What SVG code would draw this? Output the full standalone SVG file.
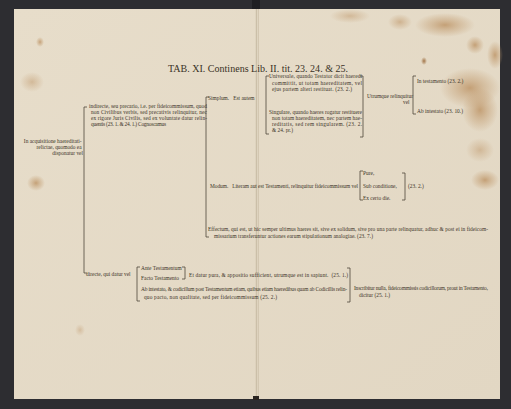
<svg xmlns="http://www.w3.org/2000/svg" width="511" height="409" viewBox="0 0 511 409">
<defs>
<radialGradient id="stain"><stop offset="0" stop-color="#b98d5c" stop-opacity="0.75"/><stop offset="0.6" stop-color="#c29c70" stop-opacity="0.35"/><stop offset="1" stop-color="#c29c70" stop-opacity="0"/></radialGradient>
<radialGradient id="spot"><stop offset="0" stop-color="#9a6a3a" stop-opacity="0.9"/><stop offset="1" stop-color="#9a6a3a" stop-opacity="0"/></radialGradient>
<linearGradient id="page" x1="0" y1="0" x2="1" y2="1"><stop offset="0" stop-color="#e7ddca"/><stop offset="1" stop-color="#e2d7c3"/></linearGradient>
<style>
.t{font-family:"Liberation Serif",serif;font-size:5.4px;fill:#3c3428}
.ti{font-family:"Liberation Serif",serif;font-size:10px;fill:#3a3226}
.b{fill:none;stroke:#4f473b;stroke-width:0.8}
</style>
</defs>
<rect width="511" height="409" fill="#2d2d31"/>
<rect x="14" y="9" width="486" height="390" fill="url(#page)"/>
<rect x="252" y="0" width="8" height="9" fill="#1f1f22"/>
<line x1="256.5" y1="9" x2="256.5" y2="399" stroke="#cbbfa8" stroke-width="1.5"/>
<line x1="258.5" y1="9" x2="258.5" y2="399" stroke="#d3c7b1" stroke-width="1"/>
<rect x="253" y="396" width="6" height="4" fill="#2a2420"/>
<g id="stains">
<ellipse cx="470" cy="88" rx="30" ry="20" fill="url(#stain)"/>
<ellipse cx="480" cy="110" rx="18" ry="22" fill="url(#stain)"/>
<ellipse cx="445" cy="25" rx="30" ry="12" fill="url(#stain)"/>
<ellipse cx="475" cy="45" rx="9" ry="9" fill="url(#stain)"/>
<ellipse cx="495" cy="55" rx="8" ry="14" fill="url(#stain)"/>
<ellipse cx="400" cy="22" rx="12" ry="8" fill="url(#stain)" opacity="0.7"/>
<ellipse cx="350" cy="16" rx="20" ry="7" fill="url(#stain)" opacity="0.6"/>
<ellipse cx="424" cy="61" rx="3" ry="4" fill="url(#spot)"/>
<ellipse cx="485" cy="180" rx="14" ry="10" fill="url(#stain)"/>
<ellipse cx="480" cy="150" rx="14" ry="12" fill="url(#stain)" opacity="0.6"/>
<ellipse cx="40" cy="42" rx="4" ry="5" fill="url(#stain)"/>
<ellipse cx="32" cy="82" rx="12" ry="10" fill="url(#stain)" opacity="0.6"/>
<ellipse cx="36" cy="183" rx="9" ry="8" fill="url(#stain)"/>
<ellipse cx="80" cy="330" rx="5" ry="6" fill="url(#stain)" opacity="0.5"/>
</g>
<g id="title"><text class="ti" x="168" y="72" textLength="180" lengthAdjust="spacingAndGlyphs">TAB. XI. Continens Lib. II. tit. 23. 24. &amp; 25.</text></g>
<g id="connectors">
<path class="b" d="M87 107 H84 V273 H87"/>
<path class="b" d="M209 97 H206 V237 H209"/>
<path class="b" d="M269 76 H266 V134 H269"/>
<path class="b" d="M360 76 H363 V137 H360"/>
<path class="b" d="M416 76 H413 V114 H416"/>
<path class="b" d="M363 171 H360 V200 H363"/>
<path class="b" d="M402 173 H405 V200 H402"/>
<path class="b" d="M140 267 H137 V301 H140"/>
<path class="b" d="M182 267 H185 V279 H182"/>
<path class="b" d="M347 268 H350 V302 H347"/>
</g>
<g id="n-root"><text class="t" text-anchor="end">
<tspan x="83" y="143">In acquisitione haereditati-</tspan>
<tspan x="83" y="149">relictae, quomodo ea</tspan>
<tspan x="83" y="155">disponatur vel</tspan></text></g>
<g id="n-indirecte"><text class="t">
<tspan x="89" y="108" textLength="118">indirecte, seu precario, i.e. per fideicommissum, quod</tspan>
<tspan x="91" y="114" textLength="116">non Civilibus verbis, sed precativis relinquitur, nec</tspan>
<tspan x="91" y="120" textLength="116">ex rigore Juris Civilis, sed ex voluntate datur relin-</tspan>
<tspan x="91" y="126" textLength="75">quentis (23. 1. &amp; 24. 1.) Cognoscamus</tspan></text></g>
<g id="n-simplum"><text class="t" x="208" y="100">Simplum.&#160;&#160;&#160;Est autem</text></g>
<g id="n-universale"><text class="t">
<tspan x="269" y="78" textLength="93">Universale, quando Testator dicit haeredi</tspan>
<tspan x="272" y="85" textLength="90">committit, ut totam haereditatem, vel</tspan>
<tspan x="272" y="91" textLength="80">ejus partem alteri restituat. (23. 2.)</tspan></text></g>
<g id="n-singulare"><text class="t">
<tspan x="269" y="114" textLength="93">Singulare, quando haeres rogatur restituere</tspan>
<tspan x="272" y="120" textLength="90">non totam haereditatem, nec partem hae-</tspan>
<tspan x="272" y="126" textLength="90">reditatis, sed rem singularem. (23. 2.</tspan>
<tspan x="272" y="132">&amp; 24. pr.)</tspan></text></g>
<g id="n-utrumque"><text class="t">
<tspan x="367" y="98">Utrumque relinquitur</tspan>
<tspan x="403" y="104">vel</tspan></text></g>
<g id="n-testamento"><text class="t" x="417" y="83">In testamento (23. 2.)</text></g>
<g id="n-intestato"><text class="t" x="417" y="113">Ab intestato (23. 10.)</text></g>
<g id="n-modum"><text class="t" x="210" y="188" textLength="148">Modum.&#160;&#160;&#160;Literam aut est Testamenti, relinquitur fideicommissum vel</text></g>
<g id="n-pure"><text class="t" x="363" y="175">Pure,</text></g>
<g id="n-sub"><text class="t" x="363" y="188">Sub conditione,</text></g>
<g id="n-ex"><text class="t" x="363" y="200">Ex certo die.</text></g>
<g id="n-ref"><text class="t" x="408" y="188">(23. 2.)</text></g>
<g id="n-effectum"><text class="t">
<tspan x="208" y="231" textLength="280">Effectum, qui est, ut hic semper ultimus haeres sit, sive ex solidum, sive pro una parte relinquatur, adhuc &amp; post ei in fideicom-</tspan>
<tspan x="214" y="238" textLength="159">missarium transferuntur actiones earum stipulationum analogiae. (23. 7.)</tspan></text></g>
<g id="n-directe"><text class="t" x="86" y="276">directe, qui datur vel</text></g>
<g id="n-ante"><text class="t" x="141" y="270">Ante Testamentum</text></g>
<g id="n-facto"><text class="t" x="141" y="280">Facto Testamento</text></g>
<g id="n-datur"><text class="t" x="189" y="277" textLength="159">Et datur pura, &amp; appositio sufficient, utrumque est in sapiunt.&#160;&#160;(25. 1.)</text></g>
<g id="n-abint"><text class="t">
<tspan x="141" y="291" textLength="206">Ab intestato, &amp; codicillum post Testamentum etiam, quibus etiam haeredibus quam ab Codicillis relin-</tspan>
<tspan x="144" y="299" textLength="133">quo pacto, non qualitate, sed per fideicommissum (25. 2.)</tspan></text></g>
<g id="n-inscribitur"><text class="t">
<tspan x="354" y="290" textLength="134">Inscribitur nulla, fideicommissis codicillorum, prout in Testamento,</tspan>
<tspan x="359" y="297">dicitur (25. 1.)</tspan></text></g>
</svg>
